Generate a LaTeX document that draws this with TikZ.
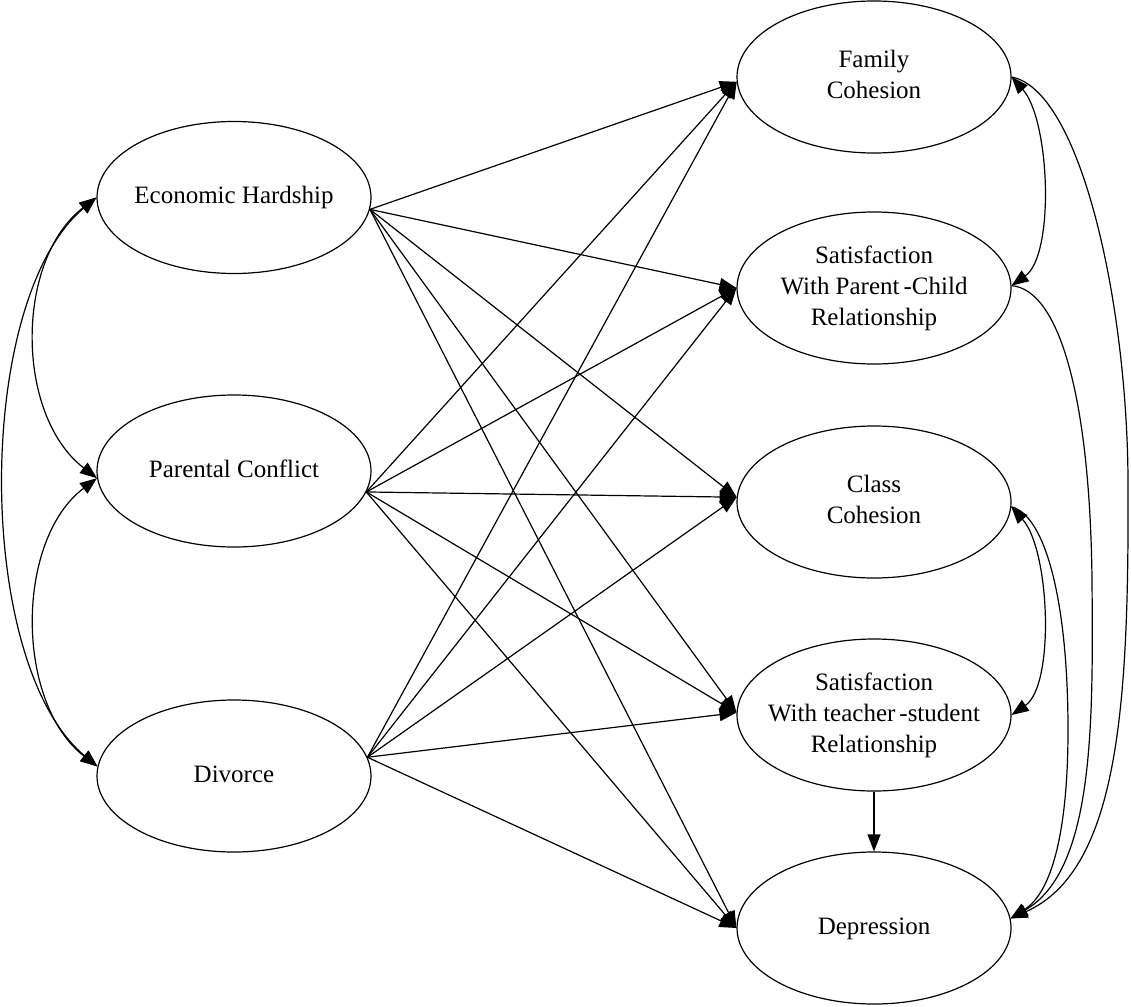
\documentclass[tikz,border=0pt]{standalone}
\usepackage{fontspec}
\setmainfont{Liberation Serif}
\usetikzlibrary{shapes.geometric,arrows.meta}
\newcommand\vlabel[1]{\makebox[0pt]{\begin{tabular}{@{}c@{}}#1\end{tabular}}}
\begin{document}
\begin{tikzpicture}[x=1pt,y=-1pt,
  var/.style={ellipse,draw,line width=1.2pt,minimum width=274pt,minimum height=152pt,inner sep=0pt,font=\fontsize{25}{31}\selectfont},
  conn/.style={line width=1.2pt,-{Triangle[length=17pt,width=13pt]}},
  corr/.style={line width=1.2pt,{Triangle[length=17pt,width=13pt]}-{Triangle[length=17pt,width=13pt]}}]
\useasboundingbox (0,0) rectangle (1131,1006);
\node[var] (eco) at (234,197.5) {\vlabel{Economic Hardship}};
\node[var] (pc)  at (234,471) {\vlabel{Parental Conflict}};
\node[var] (div) at (234,776) {\vlabel{Divorce}};
\node[var] (fc)  at (874,77) {\vlabel{Family\\Cohesion}};
\node[var] (spc) at (874,288) {\vlabel{Satisfaction\\With Parent\kern4pt-Child\\Relationship}};
\node[var] (cc)  at (874,502) {\vlabel{Class\\Cohesion}};
\node[var] (ts)  at (874,715) {\vlabel{Satisfaction\\With teacher\kern4pt-student\\Relationship}};
\node[var] (dep) at (874,928) {\vlabel{Depression}};
% direct paths
\foreach \s/\a in {eco/-5, pc/-9, div/8} {
  \draw[conn] (\s.\a) -- (fc.182);
  \draw[conn] (\s.\a) -- (spc.180);
  \draw[conn] (\s.\a) -- (cc.178);
  \draw[conn] (\s.\a) -- (ts.179);
  \draw[conn] (\s.\a) -- (dep.180);
}
\draw[conn] (ts.south) -- (dep.north);
% correlations among exogenous variables
\draw[corr] (eco.180) .. controls (15,260) and (15,415) .. (pc.183);
\draw[corr] (pc.183) .. controls (15,540) and (15,703) .. (div.176);
\draw[corr] (eco.180) .. controls (-26,300) and (-26,664) .. (div.176);
% right side curves
\draw[corr] (fc.0) .. controls (1050,120) and (1055,255) .. (spc.1);
\draw[corr] (cc.-2) .. controls (1050,550) and (1055,685) .. (ts.0);
\draw[conn] (fc.0) .. controls (1080,90) and (1127,300) .. (1128,480) .. controls (1129,700) and (1120,870) .. (dep.4);
\draw[conn] (spc.1) .. controls (1060,290) and (1090,400) .. (1092,580) .. controls (1093,720) and (1095,870) .. (dep.4);
\draw[conn] (cc.-2) .. controls (1045,515) and (1068,600) .. (1068,730) .. controls (1068,820) and (1055,890) .. (dep.4);
\end{tikzpicture}
\end{document}
